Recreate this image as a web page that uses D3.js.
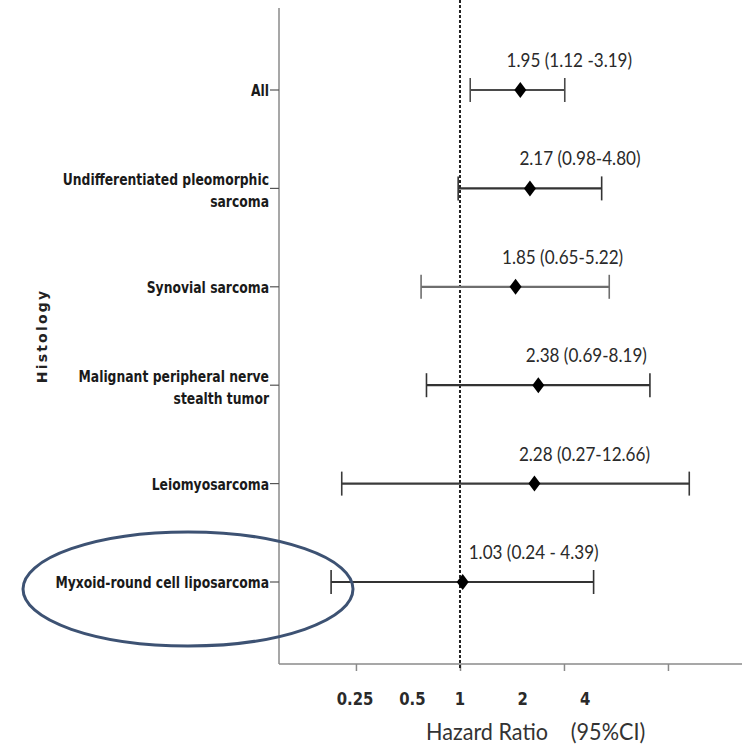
<!DOCTYPE html>
<html>
<head>
<meta charset="utf-8">
<script src="https://cdn.jsdelivr.net/npm/d3@7/dist/d3.min.js"></script>
<style>
  html, body { margin: 0; padding: 0; background: #fff; }
  svg { display: block; }
</style>
</head>
<body>
<svg id="chart" width="743" height="752"></svg>
<script>
// ---- data ----
const categories = [
  "All",
  "Undifferentiated pleomorphic\nsarcoma",
  "Synovial sarcoma",
  "Malignant peripheral nerve\nstealth tumor",
  "Leiomyosarcoma",
  "Myxoid-round cell liposarcoma"
];
const hazardRatio = [1.95, 2.17, 1.85, 2.38, 2.28, 1.03];
const ciLower     = [1.12, 0.98, 0.65, 0.69, 0.27, 0.24];
const ciUpper     = [3.19, 4.80, 5.22, 8.19, 12.66, 4.39];
const ciText      = ["1.95 (1.12 -3.19)", "2.17 (0.98-4.80)", "1.85 (0.65-5.22)",
                     "2.38 (0.69-8.19)", "2.28 (0.27-12.66)", "1.03 (0.24 - 4.39)"];
const axisTickValues   = [0.316, 1, 3.162, 10];
const tickLabels       = ["0.25", "0.5", "1", "2", "4"];
const tickLabelAnchors = [0.313, 0.59, 1, 2, 4];
const referenceValue = 1;
const highlighted = "Myxoid-round cell liposarcoma";

// ---- layout ----
const svg = d3.select("#chart");
const plotLeft = 279, plotRight = 742, plotTop = 8, axisY = 664;
const x = d3.scaleLog().domain([0.1348, 22.7]).range([plotLeft, plotRight]);
const y = d3.scalePoint().domain(categories).range([90, 582]);
const noteShift = [49, 50, 47, 48, 50, 71];
const lineColors = ["#4a4a4a", "#333", "#6e6e6e", "#333", "#3a3a3a", "#333"];
const labelFont = "'DejaVu Sans Condensed', 'DejaVu Sans', sans-serif";
const noteFont = "Lato, 'Open Sans', sans-serif";

// y axis line
svg.append("line")
  .attr("x1", plotLeft).attr("x2", plotLeft).attr("y1", plotTop).attr("y2", axisY)
  .attr("stroke", "#8a8a8a").attr("stroke-width", 1.5);

// x axis
const xAxis = d3.axisBottom(x).tickValues(axisTickValues).tickSize(7).tickFormat("");
const gx = svg.append("g").attr("transform", `translate(0,${axisY})`).call(xAxis);
gx.select(".domain").attr("stroke", "#8a8a8a").attr("stroke-width", 1.5)
  .attr("d", `M${plotLeft},0H${plotRight}`);
gx.selectAll(".tick line").attr("stroke", "#8a8a8a").attr("stroke-width", 1.5);

// tick labels
svg.append("g").selectAll("text").data(tickLabels).join("text")
  .attr("transform", (d, i) => `translate(${x(tickLabelAnchors[i])},705) scale(0.92,1)`)
  .attr("text-anchor", "middle")
  .attr("font-family", labelFont)
  .attr("font-weight", "bold")
  .attr("font-size", 18)
  .attr("fill", "#2a2a2a")
  .text(d => d);

// axis title
svg.append("text")
  .attr("transform", "translate(487,740) scale(0.9,1)")
  .attr("text-anchor", "middle")
  .attr("font-family", noteFont)
  .attr("font-size", 24)
  .attr("fill", "#333")
  .text("Hazard Ratio");
svg.append("text")
  .attr("transform", "translate(608,740) scale(0.9,1)")
  .attr("text-anchor", "middle")
  .attr("font-family", noteFont)
  .attr("font-size", 24)
  .attr("fill", "#333")
  .text("(95%CI)");

// y axis title
svg.append("text")
  .attr("transform", "translate(47,336) rotate(-90)")
  .attr("text-anchor", "middle")
  .attr("font-family", "'DejaVu Sans', sans-serif")
  .attr("font-weight", "bold")
  .attr("font-size", 14)
  .attr("letter-spacing", 2.2)
  .attr("fill", "#222")
  .text("Histology");

// reference line
svg.append("line")
  .attr("x1", x(referenceValue)).attr("x2", x(referenceValue))
  .attr("y1", 0).attr("y2", axisY + 6)
  .attr("stroke", "#222").attr("stroke-width", 2)
  .attr("stroke-dasharray", "3,2");

// category labels + y ticks
const catG = svg.append("g").selectAll("g").data(categories).join("g");
catG.append("line")
  .attr("x1", plotLeft - 9).attr("x2", plotLeft)
  .attr("y1", d => y(d)).attr("y2", d => y(d))
  .attr("stroke", "#555").attr("stroke-width", 1.2);
catG.append("text")
  .attr("transform", `translate(${plotLeft - 10},0) scale(0.86,1)`)
  .attr("text-anchor", "end")
  .attr("font-family", labelFont)
  .attr("font-weight", "bold")
  .attr("font-size", 16)
  .attr("fill", "#1a1a1a")
  .each(function(d) {
    const lines = d.split("\n");
    const t = d3.select(this);
    lines.forEach((ln, k) => {
      const dy = lines.length === 1 ? 6 : (k === 0 ? -3 : 19);
      t.append("tspan").attr("x", 0).attr("y", y(d) + dy).text(ln);
    });
  });

// CI lines and caps
const rows = categories.map((c, i) => ({c, i}));
const ciG = svg.append("g").selectAll("g").data(rows).join("g");
ciG.append("line")
  .attr("x1", r => x(ciLower[r.i])).attr("x2", r => x(ciUpper[r.i]))
  .attr("y1", r => y(r.c)).attr("y2", r => y(r.c))
  .attr("stroke", r => lineColors[r.i]).attr("stroke-width", 2.2);
ciG.append("line")
  .attr("x1", r => x(ciLower[r.i])).attr("x2", r => x(ciLower[r.i]))
  .attr("y1", r => y(r.c) - 12).attr("y2", r => y(r.c) + 12)
  .attr("stroke", r => lineColors[r.i]).attr("stroke-width", 1.6);
ciG.append("line")
  .attr("x1", r => x(ciUpper[r.i])).attr("x2", r => x(ciUpper[r.i]))
  .attr("y1", r => y(r.c) - 12).attr("y2", r => y(r.c) + 12)
  .attr("stroke", r => lineColors[r.i]).attr("stroke-width", 1.6);
// diamonds
ciG.append("path")
  .attr("d", r => {
    const cx = x(hazardRatio[r.i]), cy = y(r.c);
    return `M${cx},${cy - 8}L${cx + 6},${cy}L${cx},${cy + 8}L${cx - 6},${cy}Z`;
  })
  .attr("fill", "#000");
// annotations
ciG.append("text")
  .attr("transform", r => `translate(${x(hazardRatio[r.i]) + noteShift[r.i]},${y(r.c) - 23}) scale(0.9,1)`)
  .attr("text-anchor", "middle")
  .attr("font-family", noteFont)
  .attr("font-size", 19)
  .attr("fill", "#2a2a2a")
  .text(r => ciText[r.i]);

// highlight ellipse
svg.append("ellipse")
  .attr("cx", 188).attr("cy", y(highlighted) + 7)
  .attr("rx", 165).attr("ry", 57)
  .attr("fill", "none")
  .attr("stroke", "#3d5273").attr("stroke-width", 3);
</script>
</body>
</html>
